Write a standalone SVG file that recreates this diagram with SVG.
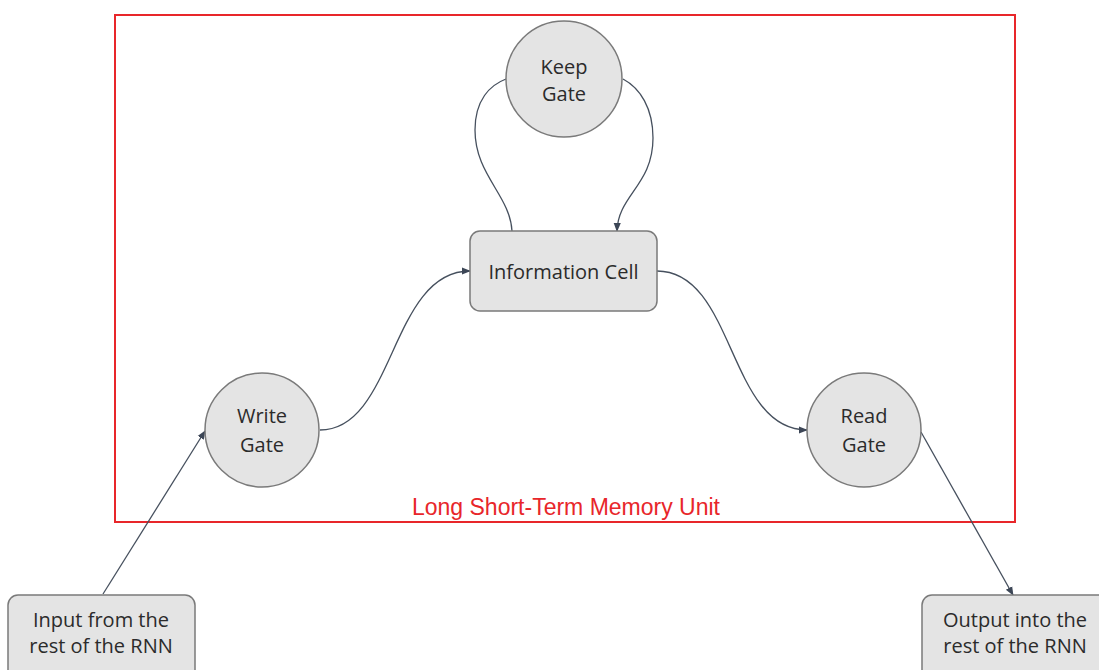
<svg xmlns="http://www.w3.org/2000/svg" width="1099" height="670" viewBox="0 0 1099 670">
  <style>
    .node { fill: #e4e4e4; stroke: #7a7a7a; stroke-width: 1.5; }
    .label { font-family: "Open Sans", "Noto Sans", sans-serif; font-size: 20px; fill: #2b2b2b; text-anchor: middle; }
    .edge { fill: none; stroke: #46505e; stroke-width: 1.3; }
    .frame { fill: none; stroke: #e8262a; stroke-width: 2; }
    .frame-label { font-family: "Liberation Sans", Arial, sans-serif; font-size: 23px; fill: #e8262a; text-anchor: middle; }
  </style>
  <defs>
    <marker id="arrow" viewBox="0 0 10 10" refX="9" refY="5" markerWidth="9" markerHeight="9" orient="auto" markerUnits="userSpaceOnUse">
      <path d="M0,1 L10,5 L0,9 z" fill="#3c4656"/>
    </marker>
  </defs>
  <rect width="1099" height="670" fill="#ffffff"/>

  <!-- LSTM unit boundary -->
  <g id="lstm-frame">
    <rect class="frame" x="115" y="15" width="900" height="507"/>
    <text class="frame-label" x="566" y="515">Long Short-Term Memory Unit</text>
  </g>

  <!-- connectors -->
  <g id="connectors">
    <path class="edge" d="M103,594 L205,431" marker-end="url(#arrow)"/>
    <path class="edge" d="M320,430 C395,430 390,271 470,271" marker-end="url(#arrow)"/>
    <path class="edge" d="M657,271 C735,271 728,430 807,430" marker-end="url(#arrow)"/>
    <path class="edge" d="M512,231 C510,195 475,175 475,130 C475,100 490,85 506,79"/>
    <path class="edge" d="M623,79 C640,88 653,108 653,138 C653,185 618,195 617,231" marker-end="url(#arrow)"/>
    <path class="edge" d="M921,432 L1013,595" marker-end="url(#arrow)"/>
  </g>

  <g id="keep-gate">
    <circle class="node" cx="564" cy="79" r="58"/>
    <text class="label" x="564" y="74">Keep</text>
    <text class="label" x="564" y="101">Gate</text>
  </g>

  <g id="information-cell">
    <rect class="node" x="470" y="231" width="187" height="80" rx="10"/>
    <text class="label" x="563.5" y="279">Information Cell</text>
  </g>

  <g id="write-gate">
    <circle class="node" cx="262" cy="430" r="57"/>
    <text class="label" x="262" y="423">Write</text>
    <text class="label" x="262" y="452">Gate</text>
  </g>

  <g id="read-gate">
    <circle class="node" cx="864" cy="430" r="57"/>
    <text class="label" x="864" y="423">Read</text>
    <text class="label" x="864" y="452">Gate</text>
  </g>

  <g id="input-node">
    <rect class="node" x="8" y="595" width="187" height="90" rx="10"/>
    <text class="label" x="101" y="627">Input from the</text>
    <text class="label" x="101" y="653">rest of the RNN</text>
  </g>

  <g id="output-node">
    <rect class="node" x="922" y="595" width="187" height="90" rx="10"/>
    <text class="label" x="1015" y="627">Output into the</text>
    <text class="label" x="1015" y="653">rest of the RNN</text>
  </g>
</svg>
